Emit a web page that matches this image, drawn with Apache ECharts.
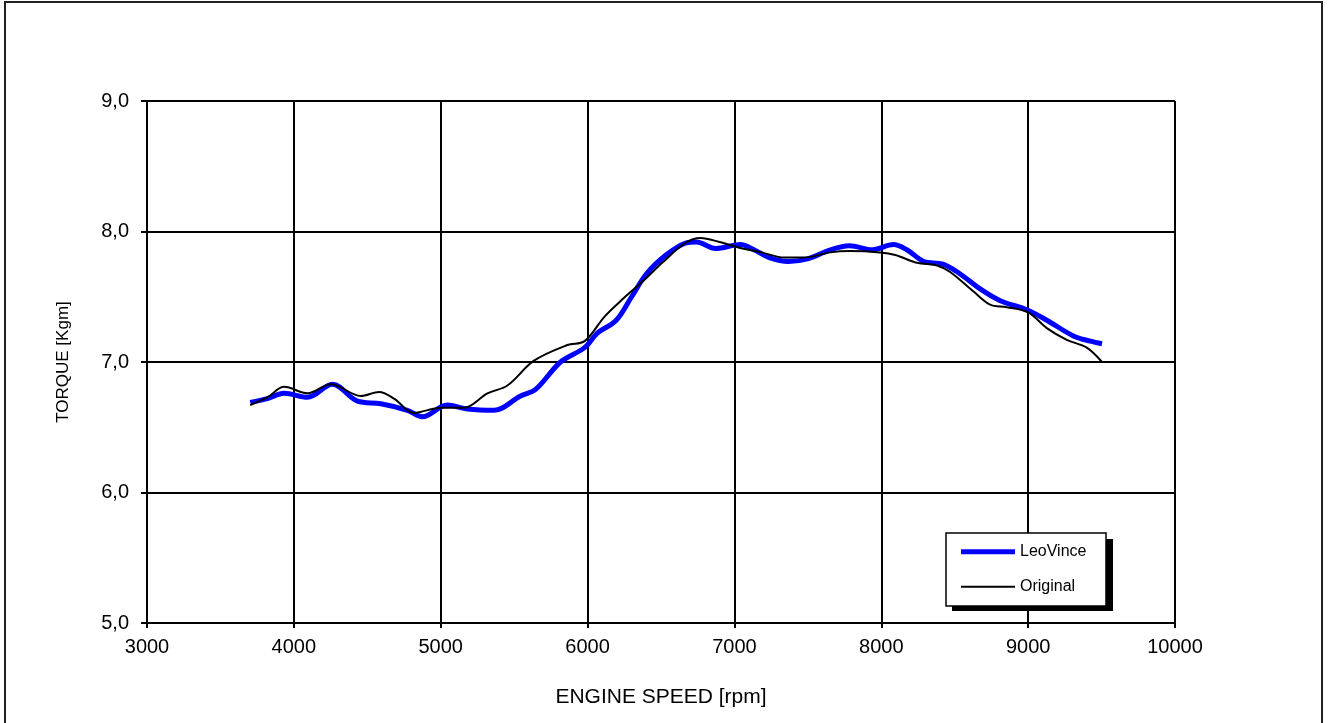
<!DOCTYPE html>
<html><head><meta charset="utf-8">
<script src="https://cdn.jsdelivr.net/npm/echarts@6/dist/echarts.min.js"></script>
<style>html,body{margin:0;padding:0;background:#fff}#c{width:1330px;height:723px}</style>
</head><body><div id="c"></div>
<script>
var xTicks = [3000,4000,5000,6000,7000,8000,9000,10000];
var yTicks = [5,6,7,8,9];
var leoRpm = [3703,3820,3934,4093,4263,4433,4592,4773,4875,5045,5182,5363,5544,5646,5816,5980,6065,6195,6300,6404,6534,6664,6742,6872,7042,7133,7237,7367,7497,7654,7784,7940,8083,8174,8290,8420,8530,8673,8810,8991,9127,9308,9424,9503];
var leoTorque = [6.69,6.72,6.76,6.73,6.83,6.70,6.68,6.63,6.58,6.67,6.64,6.63,6.74,6.79,7.00,7.11,7.22,7.32,7.50,7.68,7.82,7.91,7.92,7.87,7.90,7.86,7.80,7.77,7.79,7.86,7.89,7.86,7.90,7.86,7.77,7.75,7.68,7.56,7.47,7.40,7.32,7.20,7.16,7.14];
var origRpm = [3703,3821,3934,4093,4252,4456,4580,4682,4818,5000,5159,5318,5454,5635,5862,5980,6117,6247,6378,6508,6664,6768,6898,7055,7185,7341,7471,7654,7784,7992,8096,8243,8379,8469,8628,8741,8855,9000,9127,9263,9399,9503];
var origTorque = [6.67,6.73,6.81,6.76,6.83,6.74,6.77,6.72,6.61,6.65,6.65,6.76,6.82,7.01,7.13,7.16,7.35,7.49,7.62,7.76,7.91,7.95,7.92,7.87,7.84,7.80,7.80,7.84,7.85,7.84,7.82,7.76,7.74,7.69,7.54,7.44,7.42,7.38,7.26,7.17,7.11,7.00];
var seriesNames = ['LeoVince','Original'];

function pairs(xs, ys){ return xs.map(function(x,i){return [x, ys[i]];}); }

var chart = echarts.init(document.getElementById('c'));
var F = 'Liberation Sans, Arial, sans-serif';
chart.setOption({
  animation:false,
  backgroundColor:'#fff',
  textStyle:{fontFamily:F},
  grid:{left:147,top:101,right:155,bottom:100,containLabel:false},
  graphic:[
    {type:'rect',z:1,shape:{x:5,y:2,width:1317,height:730},style:{fill:'none',stroke:'#222',lineWidth:2}},
    {type:'rect',z:3,shape:{x:952,y:539,width:161,height:72},style:{fill:'#000'}},
    {type:'rect',z:3,shape:{x:946,y:533,width:160,height:73},style:{fill:'#fff',stroke:'#000',lineWidth:1.5}}
  ],
  legend:{
    z:5,
    left:961, top:543.7,
    orient:'vertical',
    itemWidth:54, itemHeight:16, itemGap:19,
    padding:0,
    itemStyle:{borderWidth:0},
    textStyle:{fontFamily:F,fontSize:16,color:'#000'},
    data:[
      {name:seriesNames[0], icon:'path://M0,0L0,0M0,5.5L54,5.5L54,10.5L0,10.5ZM0,16L0,16'},
      {name:seriesNames[1], icon:'path://M0,0L0,0M0,7L54,7L54,9L0,9ZM0,16L0,16'}
    ]
  },
  xAxis:{
    type:'value', min:xTicks[0], max:xTicks[xTicks.length-1], interval:1000,
    name:'ENGINE SPEED [rpm]', nameLocation:'middle', nameGap:64,
    nameTextStyle:{fontFamily:F,fontSize:21,color:'#000'},
    axisLine:{show:true,lineStyle:{color:'#000',width:2}},
    axisTick:{show:true,length:5,lineStyle:{color:'#000',width:2}},
    axisLabel:{fontFamily:F,fontSize:20,color:'#000',margin:14,
      formatter:function(v){return String(v);}},
    splitLine:{show:true,lineStyle:{color:'#000',width:2}}
  },
  yAxis:{
    type:'value', min:yTicks[0], max:yTicks[yTicks.length-1], interval:1,
    name:'TORQUE [Kgm]', nameLocation:'middle', nameGap:75,
    nameTextStyle:{fontFamily:F,fontSize:17,color:'#000'},
    axisLine:{show:true,lineStyle:{color:'#000',width:2}},
    axisTick:{show:true,length:6,lineStyle:{color:'#000',width:2}},
    axisLabel:{fontFamily:F,fontSize:20,color:'#000',margin:18,
      formatter:function(v){return v.toFixed(1).replace('.',',');}},
    splitLine:{show:true,lineStyle:{color:'#000',width:2}}
  },
  series:[
    {name:seriesNames[0],type:'line',data:pairs(leoRpm,leoTorque),smooth:0.35,symbol:'none',
     lineStyle:{color:'#0000ff',width:5},itemStyle:{color:'#0000ff'},z:3},
    {name:seriesNames[1],type:'line',data:pairs(origRpm,origTorque),smooth:0.35,symbol:'none',
     lineStyle:{color:'#000',width:2},itemStyle:{color:'#000'},z:4}
  ]
});
</script></body></html>
